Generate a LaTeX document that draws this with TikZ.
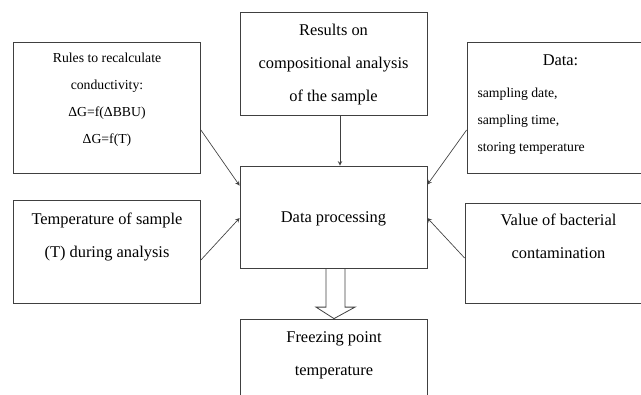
\documentclass[tikz,border=0pt]{standalone}
\usepackage{fontspec}
\setmainfont{Liberation Serif}
\usetikzlibrary{arrows,positioning,calc}

\begin{document}
\begin{tikzpicture}[x=0.75pt,y=-0.75pt,>=stealth,
block/.style={
draw=black!75,
rectangle,
line width=0.6pt,
minimum width=140.25pt,
inner sep=0pt,
},
boxtext/.style={
align=center,
inner sep=0pt,
font=\fontsize{12.3}{24.75}\selectfont,
},
smalltext/.style={
boxtext,
font=\fontsize{10.3}{20.4}\selectfont,
},
link/.style={->,draw=black!75,line width=0.5pt}
]
\useasboundingbox (0,0) rectangle (641,394);
\clip (0,0) rectangle (641,394);

\node at (107,107.5) [block,minimum height=98.25pt] (rules){};
\node at (333.5,63.5) [block,minimum height=77.25pt] (results){};
\node at (560.5,107.5) [block,minimum height=98.25pt] (data){};
\node at (107,251.5) [block,minimum height=77.25pt] (temperature){};
\node at (333.5,217) [block,minimum height=76.5pt] (processing){};
\node at (558.5,253) [block,minimum height=75pt] (contamination){};
\node at (334,370.5) [block,minimum height=77.25pt] (freezing){};

\node [smalltext, below=8.2pt of rules.north] (rulesText){Rules to recalculate\\conductivity:\\ΔG=f(ΔBBU)\\ΔG=f(T)};
\node [boxtext, below=9.5pt of results.north] (resultsText){Results on\\compositional analysis\\of the sample};
\node [boxtext, below=9.5pt of data.north] (dataText){Data:};
\node [smalltext, align=left, below right=34.2pt and 8pt of data.north west] (dataList){sampling date,\\sampling time,\\storing temperature};
\node [boxtext, below=9.5pt of temperature.north] (temperatureText){Temperature of sample\\(T) during analysis};
\node [boxtext, below=34.3pt of processing.north] (processingText){Data processing};
\node [boxtext, below=8.6pt of contamination.north] (contaminationText){Value of bacterial\\contamination};
\node [boxtext, below=9.3pt of freezing.north] (freezingText){Freezing point\\temperature};

\draw[link] ($(rules.east)+(0,22.5)$) -- ($(processing.north west)+(0,20)$);
\draw[link] ($(results.south)+(6.5,0)$) -- ($(processing.north)+(6.5,0)$);
\draw[link] ($(data.west)+(0,22.5)$) -- ($(processing.north east)+(0,19)$);
\draw[link] ($(temperature.east)+(0,8.5)$) -- ($(processing.west)+(0,1)$);
\draw[link] ($(contamination.west)+(0,5)$) -- ($(processing.east)+(0,1)$);

\coordinate (shaft) at ($(processing.south)+(2,0)$);
\draw[draw=black!75,line width=0.6pt] ($(shaft)+(-9.5,0)$) -- ++(0,38.7) -- ++(-10,0) -- (freezing.north) -- ($(shaft)+(19.5,38.7)$) -- ++(-10,0) -- ($(shaft)+(9.5,0)$);
\end{tikzpicture}
\end{document}
